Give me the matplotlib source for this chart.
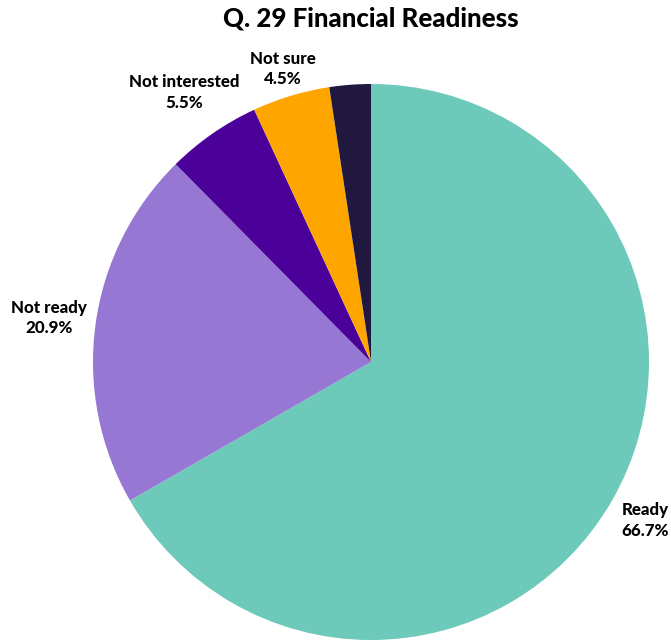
import numpy as np
import matplotlib.pyplot as plt

labels = ['Ready', 'Not ready', 'Not interested', 'Not sure', '']
values = [66.7, 20.9, 5.5, 4.5, 2.4]
colors = ['#6dc9b9', '#9677d3', '#4b0099', '#ffa500', '#21183f']
label_r = [1.14, 1.17, 1.18, 1.10, 0]

plt.rcParams['font.family'] = ['Lato', 'DejaVu Sans']

fig = plt.figure(figsize=(6.71, 6.43), dpi=100)
R = 278
cx, cy = 371, 362
ax = fig.add_axes([(cx - R) / 671, (643 - cy - R) / 643, 2 * R / 671, 2 * R / 643])
wedges, _ = ax.pie(values, colors=colors, startangle=90, counterclock=False,
                   radius=1, wedgeprops=dict(linewidth=0))
ax.set_xlim(-1, 1)
ax.set_ylim(-1, 1)
ax.set_aspect('equal')
ax.axis('off')

for w, lab, v, r in zip(wedges, labels, values, label_r):
    if not lab:
        continue
    ang = np.deg2rad((w.theta1 + w.theta2) / 2)
    ax.text(r * np.cos(ang), r * np.sin(ang), f'{lab}\n{v}%', ha='center', va='center',
            fontsize=12.2, fontweight='black', linespacing=1.35, clip_on=False)

fig.text(371 / 671, 1 - 18 / 643, 'Q. 29 Financial Readiness', ha='center', va='center',
         fontsize=18.6, fontweight='black')

fig.savefig('out.png', dpi=100)
